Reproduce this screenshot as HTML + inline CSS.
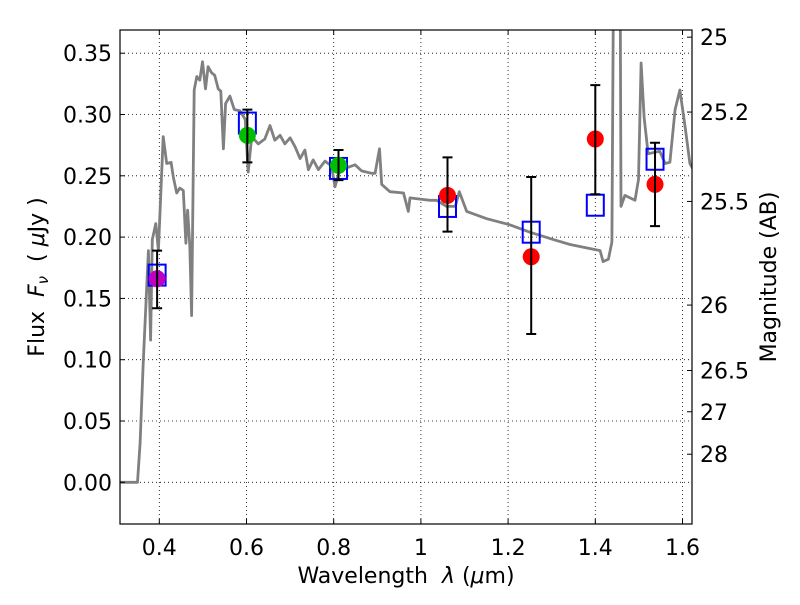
<!DOCTYPE html>
<html><head><meta charset="utf-8"><style>
body{margin:0;background:#fff}
svg text{font-family:"DejaVu Sans","Liberation Sans",sans-serif;fill:#000}
</style></head><body>
<svg id="chart" width="800" height="600" viewBox="0 0 800 600" xmlns="http://www.w3.org/2000/svg">
<rect width="800" height="600" fill="#fff"/>
<g id="grid"></g>
<g id="spec"></g>
<g id="pts"></g>
<g id="axes"></g>
</svg>
<script>
const xTicks=[0.4,0.6,0.8,1.0,1.2,1.4,1.6];
const xTickLabels=["0.4","0.6","0.8","1","1.2","1.4","1.6"];
const yTicks=[0,0.05,0.1,0.15,0.2,0.25,0.3,0.35];
const yTickLabels=["0.00","0.05","0.10","0.15","0.20","0.25","0.30","0.35"];
const magTicks=[25,25.2,25.5,26,26.5,27,28];
const magTickLabels=["25","25.2","25.5","26","26.5","27","28"];
const specLam=[0.31,0.35,0.356,0.363,0.375,0.38,0.384,0.392,0.398,0.409,0.417,0.427,0.432,0.44,0.447,0.455,0.461,0.465,0.47,0.474,0.48,0.486,0.493,0.499,0.506,0.512,0.52,0.527,0.535,0.541,0.547,0.552,0.562,0.572,0.585,0.597,0.604,0.612,0.627,0.642,0.654,0.665,0.677,0.688,0.7,0.711,0.723,0.734,0.742,0.753,0.765,0.78,0.795,0.803,0.818,0.834,0.849,0.864,0.887,0.895,0.905,0.91,0.929,0.96,0.971,0.975,0.998,1.021,1.036,1.059,1.079,1.088,1.105,1.151,1.204,1.25,1.304,1.342,1.411,1.418,1.43,1.438,1.445,1.45,1.455,1.459,1.468,1.491,1.499,1.505,1.512,1.521,1.548,1.56,1.571,1.583,1.594,1.606,1.617,1.625];
const specFlux=[0,0,0.032,0.097,0.189,0.116,0.198,0.211,0.189,0.282,0.26,0.261,0.249,0.236,0.24,0.238,0.195,0.222,0.193,0.136,0.32,0.331,0.328,0.343,0.321,0.339,0.334,0.332,0.321,0.319,0.272,0.309,0.315,0.304,0.303,0.296,0.253,0.282,0.276,0.28,0.291,0.279,0.283,0.276,0.281,0.274,0.264,0.271,0.255,0.263,0.255,0.262,0.258,0.241,0.26,0.257,0.259,0.254,0.252,0.252,0.272,0.243,0.237,0.236,0.221,0.232,0.231,0.23,0.23,0.225,0.225,0.237,0.221,0.215,0.21,0.204,0.198,0.194,0.189,0.18,0.182,0.196,0.6,0.8,0.6,0.225,0.234,0.23,0.247,0.342,0.298,0.268,0.27,0.26,0.261,0.304,0.32,0.29,0.26,0.255];
const obsLam=[0.395,0.602,0.811,1.061,1.253,1.40,1.537];
const obsFlux=[0.166,0.283,0.2585,0.234,0.184,0.280,0.243];
const obsErrHi=[0.189,0.304,0.271,0.265,0.249,0.324,0.277];
const obsErrLo=[0.142,0.261,0.2465,0.2045,0.121,0.235,0.209];
const obsColors=["#bf00bf","#00bf00","#00bf00","#ff0000","#ff0000","#ff0000","#ff0000"];
const modelFlux=[0.169,0.293,0.256,0.225,0.204,0.226,0.2635];

const L=120,R=692,T=30,B=524;
const X=v=>159.3+(v-0.4)*436;
const Y=v=>482.3-1226*v;
const NS="http://www.w3.org/2000/svg";
function mk(p,tag,a){const e=document.createElementNS(NS,tag);for(const k in a)e.setAttribute(k,a[k]);p.appendChild(e);return e;}
const grid=document.getElementById('grid'),spec=document.getElementById('spec'),pts=document.getElementById('pts'),axes=document.getElementById('axes');

xTicks.forEach((v,i)=>{
  const g=mk(grid,'line',{x1:X(v),x2:X(v),y1:T,y2:B,stroke:'#000','stroke-width':0.8,'stroke-dasharray':'1,3'});
  
  
  mk(axes,'line',{x1:X(v),x2:X(v),y1:B,y2:B-5,stroke:'#000'});
  mk(axes,'line',{x1:X(v),x2:X(v),y1:T,y2:T+5,stroke:'#000'});
  const t=mk(axes,'text',{x:X(v),y:B+31,'font-size':22,'text-anchor':'middle'});
  t.textContent=xTickLabels[i];
  
  
});
yTicks.forEach((v,i)=>{
  const g=mk(grid,'line',{x1:L,x2:R,y1:Y(v),y2:Y(v),stroke:'#000','stroke-width':0.8,'stroke-dasharray':'1,3'});
  
  
  mk(axes,'line',{x1:L,x2:L+5,y1:Y(v),y2:Y(v),stroke:'#000'});
  const t=mk(axes,'text',{x:L-8,y:Y(v)+8,'font-size':22,'text-anchor':'end'});
  t.textContent=yTickLabels[i];
  
  
});
magTicks.forEach((m,i)=>{
  const f=Math.pow(10,(23.9-m)/2.5);
  const y=Y(f);
  mk(axes,'line',{x1:R,x2:R-5,y1:y,y2:y,stroke:'#000'});
  const t=mk(axes,'text',{x:R+8,y:y+8,'font-size':22,'text-anchor':'start'});
  t.textContent=magTickLabels[i];
  
  
});

const cp=mk(spec,'clipPath',{id:'clip'});mk(cp,'rect',{x:L,y:T,width:R-L,height:B-T});
let d=specLam.map((l,i)=>(i?'L':'M')+X(l).toFixed(1)+','+Y(specFlux[i]).toFixed(1)).join('');
const sp=mk(spec,'path',{d:d,fill:'none',stroke:'#808080','stroke-width':2.8,'stroke-linejoin':'round','clip-path':'url(#clip)'});



obsLam.forEach((l,i)=>{
  const x=X(l);
  const sq=mk(pts,'rect',{x:x-8.5,y:Y(modelFlux[i])-10.5,width:17,height:21,fill:'none',stroke:'#0000ff','stroke-width':2});
  
  
  const c=mk(pts,'circle',{cx:x,cy:Y(obsFlux[i]),r:8.5,fill:obsColors[i]});
  
  
  const e=mk(pts,'path',{d:`M${x},${Y(obsErrHi[i])}V${Y(obsErrLo[i])}M${x-5},${Y(obsErrHi[i])}h10M${x-5},${Y(obsErrLo[i])}h10`,stroke:'#000','stroke-width':2,fill:'none'});
  
  
});

const fr=mk(axes,'rect',{x:L,y:T,width:R-L,height:B-T,fill:'none',stroke:'#000','stroke-width':1.2});


const xl=mk(axes,'text',{x:406,y:583,'font-size':22,'text-anchor':'middle'});
xl.innerHTML='Wavelength&#160;&#160;<tspan font-style="italic">λ</tspan> (<tspan font-style="italic">μ</tspan>m)';


const yl=mk(axes,'text',{x:0,y:0,'font-size':22,'text-anchor':'middle',transform:'translate(44,277) rotate(-90)'});
yl.innerHTML='Flux&#160;&#160;<tspan font-style="italic">F<tspan font-size="15" dy="4">ν</tspan></tspan><tspan dy="-4">&#160;&#160;(&#160;<tspan font-style="italic">μ</tspan>Jy )</tspan>';


const rl=mk(axes,'text',{x:0,y:0,'font-size':22,'text-anchor':'middle',transform:'translate(776,277) rotate(-90)'});
rl.textContent='Magnitude (AB)';


</script>
</body></html>
